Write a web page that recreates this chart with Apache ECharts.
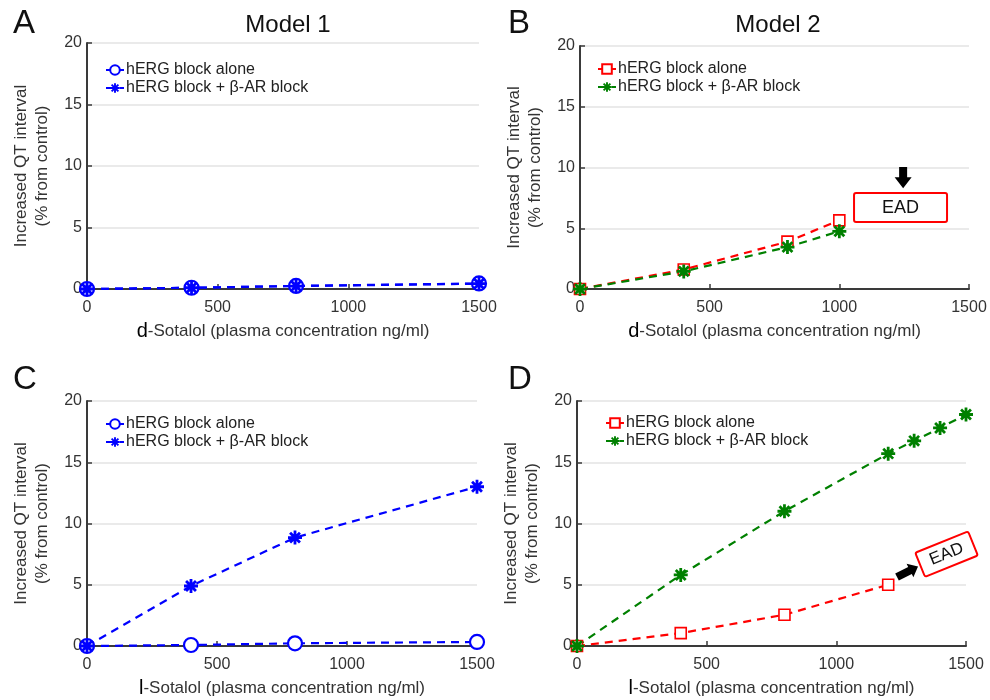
<!DOCTYPE html>
<html><head><meta charset="utf-8">
<script src="https://cdn.jsdelivr.net/npm/echarts@6/dist/echarts.min.js"></script>
<style>html,body{margin:0;padding:0;background:#fff}#c{width:990px;height:700px}</style>
</head><body><div id="c"></div>
<script>
// ---- data ----
const xTicks = [0, 500, 1000, 1500];
const yTicks = [0, 5, 10, 15, 20];
const concA = [0, 400, 800, 1500];
const A_alone = [0, 0.1, 0.25, 0.45];
const A_combo = [0, 0.1, 0.24, 0.43];
const concB = [0, 400, 800, 1000];
const B_alone = [0, 1.6, 3.9, 5.65];
const B_combo = [0, 1.45, 3.45, 4.75];
const concC = [0, 400, 800, 1500];
const C_alone = [0, 0.08, 0.22, 0.33];
const C_combo = [0, 4.9, 8.85, 13.0];
const concD_alone = [0, 400, 800, 1200];
const D_alone = [0, 1.05, 2.55, 5.0];
const concD_combo = [0, 400, 800, 1200, 1300, 1400, 1500];
const D_combo = [0, 5.8, 11.0, 15.7, 16.75, 17.8, 18.9];
const panelLetters = ['A', 'B', 'C', 'D'];
const titles = ['Model 1', 'Model 2'];
const legendLabels = ['hERG block alone', 'hERG block + \u03b2-AR block'];
const yName = 'Increased QT interval\n(% from control)';
const eadB = [1236, 6.7];         // EAD box centre (data coords, panel B)
const eadBArrow = [[1246, 10.05], [1246, 8.3]];
const eadD = [1425, 7.5];         // EAD box centre (panel D)
const eadDArrow = [[1234, 5.63], [1315, 6.5]];

const FONT = "'Liberation Sans', Arial, Helvetica, sans-serif";
const BLUE = '#0000ff', RED = '#ff0000', GREEN = '#008000';
const w = 0.2, d1 = 0.707 + w * 0.707, d2 = 0.707 - w * 0.707;
const f = v => v.toFixed(3);
const AST = 'path://' +
  `M-1,-${w}L1,-${w}L1,${w}L-1,${w}Z ` +
  `M-${w},-1L${w},-1L${w},1L-${w},1Z ` +
  `M-${f(d1)},-${f(d2)}L-${f(d2)},-${f(d1)}L${f(d1)},${f(d2)}L${f(d2)},${f(d1)}Z ` +
  `M-${f(d2)},${f(d1)}L-${f(d1)},${f(d2)}L${f(d2)},-${f(d1)}L${f(d1)},-${f(d2)}Z`;

const pairs = (xs, ys) => xs.map((x, i) => [x, ys[i]]);
const chart = echarts.init(document.getElementById('c'), null, {renderer: 'canvas'});

const grids = [
  {left: 87, right: 511, top: 43, bottom: 411},
  {left: 580, right: 21, top: 46, bottom: 411},
  {left: 87, right: 513, top: 401, bottom: 54},
  {left: 577, right: 24, top: 401, bottom: 54}
];
const drugs = ['d', 'd', 'l', 'l'];

const xAxes = grids.map((g, i) => ({
  type: 'value', gridIndex: i, min: xTicks[0], max: xTicks[xTicks.length - 1], interval: 500,
  axisLine: {show: true, lineStyle: {color: '#3a3a3a', width: 2}},
  axisTick: {show: true, inside: true, length: 5, lineStyle: {color: '#3a3a3a', width: 1.5}},
  axisLabel: {color: '#333', fontSize: 16, fontFamily: FONT, margin: 11, formatter: v => String(v)},
  splitLine: {show: false},
  name: '{dr|' + drugs[i] + '}-Sotalol (plasma concentration ng/ml)',
  nameLocation: 'middle', nameGap: 32,
  nameTextStyle: {color: '#333', fontSize: 17, fontFamily: FONT,
    rich: {dr: {color: '#000', fontSize: 20, fontFamily: FONT}}}
}));
const yAxes = grids.map((g, i) => ({
  type: 'value', gridIndex: i, min: yTicks[0], max: yTicks[yTicks.length - 1], interval: 5,
  axisLine: {show: true, lineStyle: {color: '#3a3a3a', width: 2}},
  axisTick: {show: true, inside: true, length: 5, lineStyle: {color: '#3a3a3a', width: 1.5}},
  axisLabel: {color: '#333', fontSize: 16, fontFamily: FONT, margin: 5, formatter: v => String(v)},
  splitLine: {show: true, lineStyle: {color: '#e3e3e3', width: 1.5}},
  name: yName, nameLocation: 'middle', nameGap: 34, nameRotate: 90,
  nameTextStyle: {color: '#333', fontSize: 17, fontFamily: FONT, lineHeight: 21}
}));

function mk(name, idx, data, color, symbol, size, itemStyle) {
  return {
    name: name, type: 'line', xAxisIndex: idx, yAxisIndex: idx, data: data,
    symbol: symbol, symbolSize: size, showSymbol: true,
    lineStyle: {color: color, width: 2.2, type: [8, 6]},
    itemStyle: itemStyle,
    animation: false, silent: true
  };
}
const circ = c => ({color: '#fff', borderColor: c, borderWidth: 2.2});
const sq = c => ({color: '#fff', borderColor: c, borderWidth: 1.6});
const ast = c => ({color: c, borderWidth: 0});

const nameMap = {};
const series = [];
function add(name, label, s) { nameMap[name] = label; series.push(s); }
add('a1', legendLabels[0], mk('a1', 0, pairs(concA, A_alone), BLUE, 'circle', 14, circ(BLUE)));
add('a2', legendLabels[1], mk('a2', 0, pairs(concA, A_combo), BLUE, AST, 14, ast(BLUE)));
add('b1', legendLabels[0], mk('b1', 1, pairs(concB, B_alone), RED, 'rect', 11, sq(RED)));
add('b2', legendLabels[1], mk('b2', 1, pairs(concB, B_combo), GREEN, AST, 14, ast(GREEN)));
add('c1', legendLabels[0], mk('c1', 2, pairs(concC, C_alone), BLUE, 'circle', 14, circ(BLUE)));
add('c2', legendLabels[1], mk('c2', 2, pairs(concC, C_combo), BLUE, AST, 14, ast(BLUE)));
add('d1', legendLabels[0], mk('d1', 3, pairs(concD_alone, D_alone), RED, 'rect', 11, sq(RED)));
add('d2', legendLabels[1], mk('d2', 3, pairs(concD_combo, D_combo), GREEN, AST, 14, ast(GREEN)));

const legPos = [{left: 100, top: 57}, {left: 592, top: 56}, {left: 100, top: 411}, {left: 600, top: 410}];
const legendArr = legPos.map((p, i) => ({
  left: p.left, top: p.top, orient: 'vertical', itemGap: 2, itemWidth: 18, itemHeight: 12,
  data: [['a1','b1','c1','d1'][i], ['a2','b2','c2','d2'][i]],
  formatter: n => nameMap[n], selectedMode: false,
  textStyle: {color: '#222', fontSize: 16, fontFamily: FONT, padding: [0, 0, 0, -3]}
}));

const titleArr = [
  {text: titles[0], left: 283, top: 8, textAlign: 'center'},
  {text: titles[1], left: 773, top: 8, textAlign: 'center'},
  {text: panelLetters[0], left: 8, top: 2},
  {text: panelLetters[1], left: 503, top: 2},
  {text: panelLetters[2], left: 8, top: 358},
  {text: panelLetters[3], left: 503, top: 358}
].map((t, i) => Object.assign(t, {textStyle: {color: '#111', fontWeight: 'normal', fontFamily: FONT, fontSize: i < 2 ? 24 : 33}}));

chart.setOption({
  backgroundColor: '#fff', animation: false,
  title: titleArr, grid: grids, xAxis: xAxes, yAxis: yAxes, legend: legendArr, series: series
});

function arrowPoly(p0, p1, shaftW, headW, headL) {
  const dx = p1[0] - p0[0], dy = p1[1] - p0[1];
  const L = Math.hypot(dx, dy), ux = dx / L, uy = dy / L, nx = -uy, ny = ux;
  const hb = [p1[0] - ux * headL, p1[1] - uy * headL];
  return [
    [p0[0] + nx * shaftW / 2, p0[1] + ny * shaftW / 2],
    [hb[0] + nx * shaftW / 2, hb[1] + ny * shaftW / 2],
    [hb[0] + nx * headW / 2, hb[1] + ny * headW / 2],
    p1,
    [hb[0] - nx * headW / 2, hb[1] - ny * headW / 2],
    [hb[0] - nx * shaftW / 2, hb[1] - ny * shaftW / 2],
    [p0[0] - nx * shaftW / 2, p0[1] - ny * shaftW / 2]
  ];
}
const toPx = (i, v) => chart.convertToPixel({xAxisIndex: i, yAxisIndex: i}, v);
const cB = toPx(1, eadB), cD = toPx(3, eadD);
const aB = eadBArrow.map(v => toPx(1, v)), aD = eadDArrow.map(v => toPx(3, v));
function box(c, bw, bh, rot, fs) {
  return {type: 'group', x: c[0], y: c[1], rotation: rot, children: [
    {type: 'rect', shape: {x: -bw / 2, y: -bh / 2, width: bw, height: bh, r: 2},
     style: {fill: '#fff', stroke: RED, lineWidth: 2}},
    {type: 'text', x: 0, y: 0, style: {text: 'EAD', fill: '#111', fontSize: fs, fontFamily: FONT, align: 'center', verticalAlign: 'middle'}}
  ]};
}
chart.setOption({graphic: [
  box(cB, 93, 29, 0, 18),
  {type: 'polygon', shape: {points: arrowPoly(aB[0], aB[1], 8, 17, 11)}, style: {fill: '#000'}},
  box(cD, 57, 26, 22 * Math.PI / 180, 17),
  {type: 'polygon', shape: {points: arrowPoly(aD[0], aD[1], 8, 15, 9)}, style: {fill: '#000'}}
]});
</script></body></html>
